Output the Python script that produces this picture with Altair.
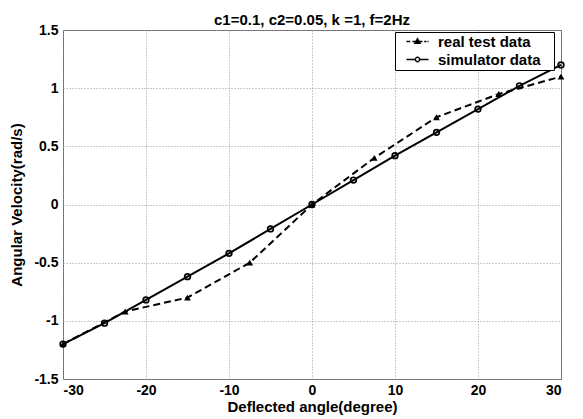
import altair as alt
import pandas as pd

sim_x = [-30, -25, -20, -15, -10, -5, 0, 5, 10, 15, 20, 25, 30]
sim_y = [-1.2, -1.02, -0.82, -0.62, -0.42, -0.21, 0, 0.21, 0.42, 0.62, 0.82, 1.02, 1.2]
real_x = [-30, -22.5, -15, -7.5, 0, 7.5, 15, 22.5, 30]
real_y = [-1.2, -0.92, -0.8, -0.5, 0, 0.4, 0.75, 0.95, 1.1]
series_names = ["real test data", "simulator data"]
x_ticks = [-30, -20, -10, 0, 10, 20, 30]
y_ticks = [-1.5, -1, -0.5, 0, 0.5, 1, 1.5]

df = pd.DataFrame(
    {"x": real_x + sim_x,
     "y": real_y + sim_y,
     "series": [series_names[0]] * len(real_x) + [series_names[1]] * len(sim_x)}
)

FONT = "Liberation Sans"

xenc = alt.X("x:Q", scale=alt.Scale(domain=[-30, 30], nice=False),
             axis=alt.Axis(values=x_ticks, title="Deflected angle(degree)",
                           labelExpr="datum.value + ''"))
yenc = alt.Y("y:Q", scale=alt.Scale(domain=[-1.5, 1.5], nice=False),
             axis=alt.Axis(values=y_ticks, title="Angular Velocity(rad/s)",
                           labelExpr="datum.value + ''"))

base = alt.Chart(df)

real_line = base.transform_filter(alt.datum.series == series_names[0]).mark_line(
    color="black", strokeWidth=2, strokeDash=[7, 4]).encode(x=xenc, y=yenc)
sim_line = base.transform_filter(alt.datum.series == series_names[1]).mark_line(
    color="black", strokeWidth=2).encode(x=xenc, y=yenc)
real_pts = base.transform_filter(alt.datum.series == series_names[0]).mark_point(
    shape="triangle-up", filled=True, color="black", size=45, opacity=1).encode(x=xenc, y=yenc)
sim_pts = base.transform_filter(alt.datum.series == series_names[1]).mark_point(
    shape="circle", filled=False, color="black", size=32, strokeWidth=1.7, opacity=1).encode(x=xenc, y=yenc)

path_real = ("M-2.2,0L-1.45,0M-1.0,0L1.0,0M1.35,0L1.8,0M2.0,0L2.2,0"
             "M0,-0.55L0.5,0.35L-0.5,0.35Z")
path_sim = ("M-2.2,0L-0.43,0M0.43,0L2.2,0"
            "M0.43,0A0.43,0.43 0 1,1 -0.43,0A0.43,0.43 0 1,1 0.43,0Z")

PAD_CHAR = "\u2800"
leg = alt.Legend(title=None, orient="none", legendX=332, legendY=2,
                 strokeColor="black", fillColor="white", padding=2,
                 symbolOffset=13, labelOffset=13, rowPadding=2,
                 labelFont=FONT, labelFontWeight="bold", labelFontSize=15,
                 labelColor="black", symbolStrokeWidth=1.5,
                 symbolOpacity=1, cornerRadius=0,
                 labelExpr="datum.label + '" + PAD_CHAR + "'")

legend_layer = base.transform_filter(alt.datum.y > 100).mark_point(
    size=196, strokeWidth=1.5, opacity=1).encode(
    x=xenc, y=yenc,
    shape=alt.Shape("series:N", scale=alt.Scale(domain=series_names, range=[path_real, path_sim]), legend=leg),
    fill=alt.Fill("series:N", scale=alt.Scale(domain=series_names, range=["black", "white"]), legend=leg),
    stroke=alt.Stroke("series:N", scale=alt.Scale(domain=series_names, range=["black", "black"]), legend=leg),
)

chart = alt.layer(real_line, sim_line, real_pts, sim_pts, legend_layer).properties(
    width=498, height=349,
    autosize=alt.AutoSizeParams(type="none"),
    padding={"left": 55, "top": 22, "right": 14, "bottom": 40},
    title=alt.Title("c1=0.1, c2=0.05, k =1, f=2Hz", font=FONT, fontSize=15,
                    fontWeight="bold", color="black", offset=-5),
).configure_view(stroke="#666", strokeWidth=1).configure_axis(
    grid=True, gridColor="#999", gridDash=[1, 2], gridWidth=1,
    domain=False, ticks=False,
    labelFont=FONT, labelFontSize=14, labelFontWeight="bold", labelColor="black",
    titleFont=FONT, titleFontSize=15, titleFontWeight="bold", titleColor="black",
).configure_axisX(labelPadding=4, titlePadding=2).configure_axisY(labelPadding=5, titlePadding=9)

chart.save("out.html", embed_options={"renderer": "svg", "actions": False})
